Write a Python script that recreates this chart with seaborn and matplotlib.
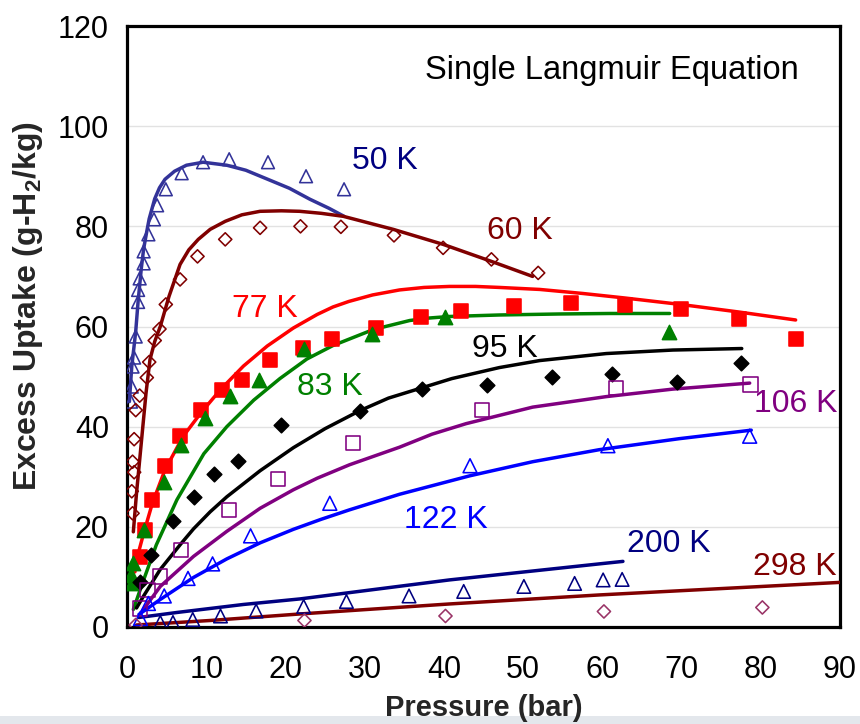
import numpy as np
import pandas as pd
import matplotlib
matplotlib.use("Agg")
import matplotlib.pyplot as plt
from matplotlib.patches import Rectangle
from matplotlib.ticker import MultipleLocator
import seaborn as sns

# ---------------- data ----------------
# measured points
p50_x = [0.5, 0.6, 0.7, 0.9, 1.1, 1.4, 1.4, 1.6, 2.1, 2.1, 2.7, 3.4, 3.8, 4.9, 6.9, 9.6, 12.9, 17.8, 22.6, 27.4]
p50_y = [45, 48, 52, 53.8, 58, 64.9, 67.3, 69.6, 72.6, 75, 78.4, 81.4, 84.2, 87.4, 90.6, 92.8, 93.4, 92.8, 90, 87.4]

p60_x = [0.6, 0.7, 0.7, 0.9, 0.9, 1.1, 1.6, 2.5, 2.8, 3.5, 4.1, 4.9, 6.7, 8.9, 12.4, 16.8, 21.9, 27.0, 33.7, 39.9, 46.0, 51.9]
p60_y = [27.1, 22.7, 33, 30.9, 37.5, 43.3, 46.2, 49.8, 52.9, 57.2, 59.5, 64.4, 69.4, 74, 77.4, 79.7, 80, 79.9, 78.2, 75.7, 73.4, 70.7]

p77_x = [1.6, 2.3, 3.2, 4.8, 6.7, 9.3, 12.0, 14.5, 18.1, 22.2, 25.9, 31.4, 37.1, 42.2, 48.8, 56.1, 62.8, 69.9, 77.2, 84.4]
p77_y = [14, 19.4, 25.3, 32.2, 38.2, 43.3, 47.3, 49.4, 53.4, 55.7, 57.6, 59.8, 61.9, 63.1, 64.1, 64.7, 64.2, 63.4, 61.4, 57.6]

p83_x = [0.5, 0.6, 0.7, 2.1, 4.7, 6.8, 9.9, 13.0, 16.6, 22.3, 30.9, 40.1, 68.4]
p83_y = [10.4, 8.7, 12.7, 19.4, 29, 36.4, 41.7, 46.1, 49.4, 55.5, 58.6, 61.9, 58.9]

p95_x = [1.6, 3.0, 5.8, 8.4, 11.0, 14.0, 19.5, 29.4, 37.2, 45.4, 53.6, 61.2, 69.4, 77.5]
p95_y = [8.9, 14.4, 21.2, 25.9, 30.6, 33.2, 40.4, 43.2, 47.5, 48.4, 49.9, 50.6, 48.9, 52.7]

p106_x = [1.6, 2.6, 4.2, 6.8, 12.9, 19.1, 28.5, 44.8, 61.7, 78.7]
p106_y = [3.7, 7.4, 10.1, 15.4, 23.4, 29.6, 36.7, 43.3, 47.7, 48.4]

p122_x = [1.7, 2.7, 4.7, 7.7, 10.8, 15.6, 25.6, 43.3, 60.7, 78.6]
p122_y = [1.7, 4.7, 6.2, 9.7, 12.6, 18.2, 24.7, 32.2, 36.2, 38.1]

p200_x = [4.2, 5.8, 8.3, 11.8, 16.3, 22.3, 27.7, 35.6, 42.5, 50.1, 56.5, 60.1, 62.5]
p200_y = [0.9, 0.9, 1.5, 2.2, 3.2, 4.1, 5.1, 6.2, 7.1, 8.1, 8.7, 9.4, 9.5]

p298_x = [1.1, 22.4, 40.2, 60.2, 80.2]
p298_y = [0.4, 1.3, 2.2, 3.1, 3.9]

# Langmuir fit curves
f50_x = [0.3, 0.6, 1.1, 1.4, 1.8, 2.1, 2.5, 2.8, 3.5, 4.1, 4.8, 6.0, 7.5, 9.6, 12.6, 15.0, 17.6, 20.5, 23.1, 25.5, 27.4]
f50_y = [45, 52, 59, 65, 71.5, 75.5, 79.0, 81.5, 85.5, 87.7, 89.4, 91.0, 92.2, 92.8, 92.2, 91.2, 89.5, 87.6, 85.4, 83.6, 82]

f60_x = [0.8, 1.2, 1.8, 2.4, 2.9, 3.5, 4.2, 5.3, 6.7, 7.8, 9.0, 10.5, 12.4, 14.5, 16.8, 19.5, 21.8, 24.5, 27.3, 33.6, 39.9, 46.0, 51.2]
f60_y = [19, 26.7, 36.7, 46.7, 53.4, 57, 60, 66, 72.4, 75.3, 77.4, 79.4, 81, 82.3, 83, 83.1, 83, 82.6, 82, 79.4, 76.4, 73, 70]

f77_x = [1.0, 1.2, 2.1, 3.2, 4.8, 7.1, 9.3, 11.8, 14.7, 17.7, 21.0, 24.0, 26.0, 28.0, 31.0, 34.4, 37.5, 40.7, 44.0, 47.0, 52.1, 57.5, 62.8, 69.9, 77.2, 84.4]
f77_y = [11, 13.4, 18.7, 24.7, 31.4, 38.1, 42.7, 47.4, 52.1, 56.1, 59.7, 62.4, 63.9, 65.0, 66.3, 67.3, 67.8, 68.0, 68.0, 67.8, 67.4, 66.6, 65.7, 64.4, 62.9, 61.3]

f83_x = [0.8, 2.1, 3.7, 6.3, 9.7, 12.6, 16.0, 19.3, 22.7, 26.0, 31.1, 35.7, 38.2, 40.7, 47.0, 54.6, 61.0, 68.5]
f83_y = [3.5, 9.4, 16.4, 25.4, 34.6, 40.0, 45.3, 49.6, 53.5, 56.2, 59.4, 61.2, 61.7, 62.0, 62.3, 62.5, 62.6, 62.6]

f95_x = [1.2, 2.1, 4.2, 6.8, 8.4, 10.5, 12.6, 16.8, 21.0, 25.0, 29.4, 33.0, 36.9, 41.0, 47.0, 52.1, 60.5, 68.9, 77.6]
f95_y = [3.8, 6.2, 11.5, 16.6, 19.6, 23.0, 26.0, 31.2, 35.8, 39.6, 43.2, 45.7, 47.6, 49.6, 51.8, 53.2, 54.6, 55.3, 55.6]

f106_x = [1.7, 4.2, 8.4, 12.6, 16.8, 21.0, 24.0, 28.1, 34.4, 38.5, 42.8, 51.2, 60.5, 68.9, 78.6]
f106_y = [2.7, 8.1, 14.1, 19.1, 23.7, 27.4, 29.7, 32.4, 35.9, 38.5, 40.6, 43.9, 46.0, 47.5, 48.7]

f122_x = [1.5, 4.2, 8.4, 12.6, 16.8, 21.0, 24.5, 28.1, 34.4, 43.3, 51.2, 59.6, 69.7, 78.8]
f122_y = [2.5, 5.5, 9.9, 13.6, 16.8, 19.5, 21.5, 23.4, 26.5, 30.2, 33.0, 35.4, 37.6, 39.3]

f200_x = [1.5, 6.3, 14.7, 21.8, 40.7, 59.6, 62.6]
f200_y = [1.9, 2.9, 4.5, 5.6, 9.4, 12.6, 13.1]

f298_x = [1.2, 10.5, 21.8, 40.7, 59.6, 89.9]
f298_y = [0.4, 1.3, 2.6, 4.6, 6.4, 8.9]

series_labels = ["50 K", "60 K", "77 K", "83 K", "95 K", "106 K", "122 K", "200 K", "298 K"]
label_x = [32.6, 49.6, 17.4, 25.6, 47.7, 84.4, 40.3, 68.4, 84.3]
label_y = [91.4, 77.4, 61.8, 46.4, 54.0, 43.0, 19.8, 15.0, 10.4]

title_text = "Single Langmuir Equation"
x_label = "Pressure (bar)"
y_label = r"Excess Uptake (g-H$_\mathbf{2}$/kg)"
x_ticks = [0, 10, 20, 30, 40, 50, 60, 70, 80, 90]
y_ticks = [0, 20, 40, 60, 80, 100, 120]

# ---------------- styling ----------------
sns.set_theme(style="white")
plt.rcParams['font.family'] = ['Liberation Sans', 'DejaVu Sans']
plt.rcParams['mathtext.fontset'] = 'custom'
plt.rcParams['mathtext.rm'] = 'Liberation Sans'
plt.rcParams['mathtext.bf'] = 'Liberation Sans:bold'

styles = [
    # line color, marker, face, edge, size, label color
    ("#333399", "^", "none", "#333399", 85, "#000080"),
    ("#800000", "D", "none", "#800000", 45, "#800000"),
    ("#FF0000", "s", "#FF0000", "#FF0000", 100, "#FF0000"),
    ("#008000", "^", "#008000", "#008000", 105, "#008000"),
    ("#000000", "D", "#000000", "#000000", 55, "#000000"),
    ("#800080", "s", "none", "#800080", 105, "#800080"),
    ("#0000FF", "^", "none", "#0000FF", 100, "#0000FF"),
    ("#000080", "^", "none", "#000080", 95, "#000080"),
    ("#800000", "D", "none", "#993366", 45, "#800000"),
]

pts = [(p50_x, p50_y), (p60_x, p60_y), (p77_x, p77_y), (p83_x, p83_y), (p95_x, p95_y),
       (p106_x, p106_y), (p122_x, p122_y), (p200_x, p200_y), (p298_x, p298_y)]
fits = [(f50_x, f50_y), (f60_x, f60_y), (f77_x, f77_y), (f83_x, f83_y), (f95_x, f95_y),
        (f106_x, f106_y), (f122_x, f122_y), (f200_x, f200_y), (f298_x, f298_y)]

fig = plt.figure(figsize=(8.6, 7.24), dpi=100)
ax = fig.add_axes([127 / 860, 1 - 627 / 724, 713 / 860, 601 / 724])

for i, name in enumerate(series_labels):
    lc, mk, fc, ec, sz, tc = styles[i]
    fdf = pd.DataFrame({"P": fits[i][0], "U": fits[i][1]})
    sns.lineplot(data=fdf, x="P", y="U", ax=ax, color=lc, linewidth=2.5,
                 sort=False, estimator=None, zorder=3)
    pdf = pd.DataFrame({"P": pts[i][0], "U": pts[i][1]})
    sns.scatterplot(data=pdf, x="P", y="U", ax=ax, marker=mk, s=sz,
                    facecolor=fc, edgecolor=ec, linewidth=1.15, zorder=4)
    ax.text(label_x[i], label_y[i], name, color=tc, fontsize=23,
            ha="center", va="baseline", zorder=5)

ax.text(61.2, 109.4, title_text, fontsize=23.5, ha="center", va="baseline", color="black")

ax.set_xlim(0, 90)
ax.set_ylim(0, 120)
ax.set_xticks(x_ticks)
ax.set_yticks(y_ticks)
ax.xaxis.set_minor_locator(MultipleLocator(2))
ax.yaxis.set_minor_locator(MultipleLocator(4))
ax.tick_params(axis="both", which="both", direction="in", colors="black",
               labelsize=22, width=1.0)
ax.tick_params(axis="x", which="major", length=6.5, pad=20)
ax.tick_params(axis="x", which="minor", length=4.0)
ax.tick_params(axis="y", which="major", length=5.5, pad=13)
ax.tick_params(axis="y", which="minor", length=5.5)
ax.tick_params(top=False, right=False, which="both")

ax.grid(axis="y", color="#e2e2e2", linewidth=1.0)
ax.set_axisbelow(True)
for sp in ax.spines.values():
    sp.set_visible(True)
    sp.set_color("black")
    sp.set_linewidth(2.3)

ax.set_xlabel(x_label, fontsize=21, fontweight="bold")
ax.set_ylabel(y_label, fontsize=23, fontweight="bold")
ax.xaxis.set_label_coords(0.5, -0.135)
ax.yaxis.set_label_coords(-0.139, 0.534)
ax.xaxis.label.set_va("center")
ax.yaxis.label.set_va("center")

fig.patches.append(Rectangle((0, 0), 1, 8 / 724, transform=fig.transFigure,
                             facecolor="#e3e7ec", edgecolor="none", zorder=-1))

fig.savefig("out.png", dpi=100)
